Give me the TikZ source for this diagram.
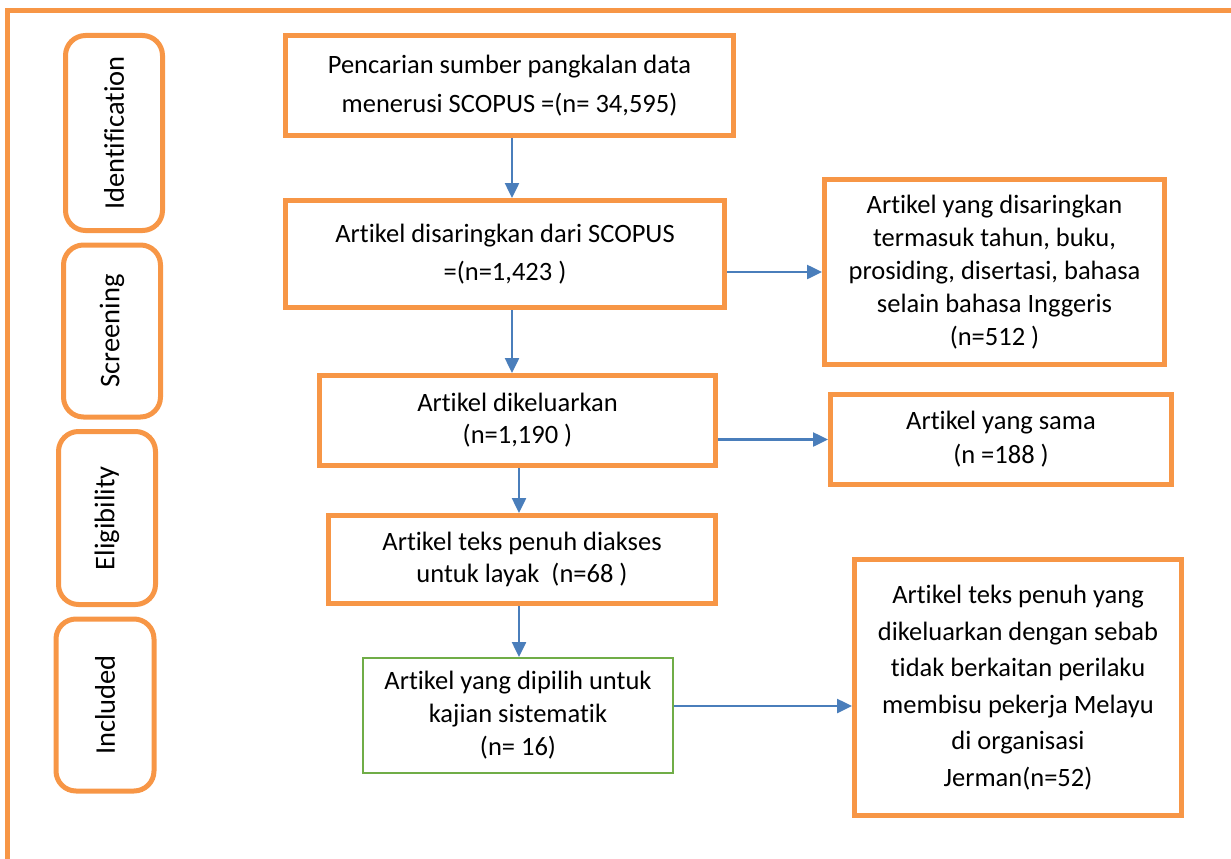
\documentclass[tikz,border=0pt]{standalone}
\usepackage{fontspec}
\setmainfont{Carlito}[Ligatures=NoCommon]
\usetikzlibrary{arrows.meta}
\definecolor{prismaorange}{HTML}{F79646}
\definecolor{prismablue}{HTML}{4A7EBB}
\definecolor{prismagreen}{HTML}{70AD47}
\begin{document}
\begin{tikzpicture}[x=1pt, y=-1pt,
    phase/.style={draw=prismaorange, line width=5pt, rounded corners=20pt,
        rotate=90, inner sep=0pt, font=\fontsize{28.5}{30}\selectfont},
    stagebox/.style={draw=prismaorange, line width=5pt, align=center,
        inner sep=0pt, font=\fontsize{26.5}{34}\selectfont},
    finalbox/.style={draw=prismagreen, line width=2pt, align=center,
        inner sep=0pt, font=\fontsize{26.5}{33}\selectfont},
    arr/.style={prismablue, line width=2.5pt, -{Triangle[length=15pt,width=14pt]}}]
\useasboundingbox (0,0) rectangle (1231,859);

% Outer frame
\draw[prismaorange, line width=5pt] (7,10.5) rectangle (1250,880);

% Phase labels
\node[phase, minimum width=195pt, minimum height=97pt] (ident) at (114,133) {Identification};
\node[phase, minimum width=172pt, minimum height=97pt] (screen) at (112,331) {Screening};
\node[phase, minimum width=173pt, minimum height=97pt] (elig) at (107,518) {Eligibility};
\node[phase, minimum width=172pt, minimum height=98pt] (incl) at (105,705) {Included};

% Main column
\node[stagebox, minimum width=448pt, minimum height=100pt, font=\fontsize{26.5}{39}\selectfont]
    (search) at (509.5,85.5) {Pencarian sumber pangkalan data\\menerusi SCOPUS =(n= 34,595)};
\node[stagebox, minimum width=439pt, minimum height=107pt, font=\fontsize{26.5}{38}\selectfont]
    (screened) at (505,254) {Artikel disaringkan dari SCOPUS\\=(n=1,423 )};
\node[stagebox, minimum width=396pt, minimum height=90pt, font=\fontsize{26.5}{32}\selectfont]
    (removed) at (517.5,420.5) {Artikel dikeluarkan\\(n=1,190 )};
\node[stagebox, minimum width=387pt, minimum height=88pt, font=\fontsize{26.5}{32}\selectfont]
    (fulltext) at (522,559.5) {Artikel teks penuh diakses\\untuk layak~~(n=68 )};
\node[finalbox, minimum width=310pt, minimum height=115pt]
    (chosen) at (518,715.5) {Artikel yang dipilih untuk\\kajian sistematik\\(n= 16)};

% Excluded column
\node[stagebox, minimum width=340pt, minimum height=185pt, font=\fontsize{26.5}{33}\selectfont]
    (filtered) at (994.5,272) {Artikel yang disaringkan\\termasuk tahun, buku,\\prosiding, disertasi, bahasa\\selain bahasa Inggeris\\(n=512 )};
\node[stagebox, minimum width=341pt, minimum height=90pt]
    (dupes) at (1001,439.5) {Artikel yang sama\\(n =188 )};
\node[stagebox, minimum width=327pt, minimum height=256pt, font=\fontsize{26.5}{36.5}\selectfont]
    (dropped) at (1018,687.5) {Artikel teks penuh yang\\dikeluarkan dengan sebab\\tidak berkaitan perilaku\\membisu pekerja Melayu\\di organisasi\\Jerman(n=52)};

% Arrows
\draw[arr] ([xshift=2.5pt]search.south) -- ([xshift=2.5pt]search.south |- screened.north);
\draw[arr] ([xshift=7pt]screened.south) -- ([xshift=7pt]screened.south |- removed.north);
\draw[arr] ([xshift=1.5pt]removed.south) -- ([xshift=1.5pt]removed.south |- fulltext.north);
\draw[arr] ([xshift=-3pt]fulltext.south) -- ([xshift=-3pt]fulltext.south |- chosen.north);
\draw[arr] (screened.east |- filtered.west) -- (filtered.west);
\draw[arr] (removed.east |- dupes.west) -- (dupes.west);
\draw[arr] ([yshift=9.5pt]chosen.east) -- ([yshift=9.5pt]chosen.east -| dropped.west);

\end{tikzpicture}
\end{document}
